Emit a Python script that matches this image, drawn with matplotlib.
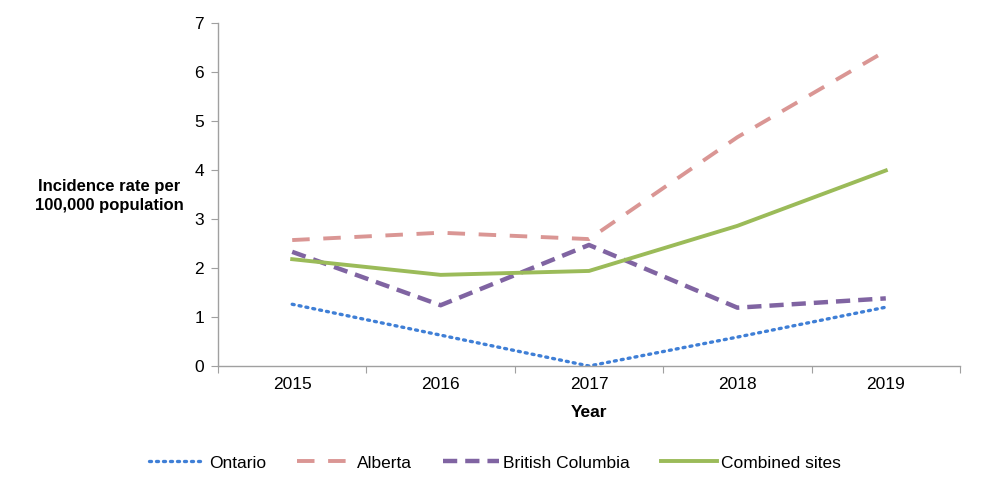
import matplotlib
matplotlib.use("Agg")
import matplotlib.pyplot as plt

plt.rcParams['font.family'] = ['Liberation Sans', 'DejaVu Sans']

years = ["2015", "2016", "2017", "2018", "2019"]
ontario = [1.26, 0.63, 0.0, 0.59, 1.20]
alberta = [2.57, 2.72, 2.59, 4.67, 6.43]
british_columbia = [2.33, 1.24, 2.47, 1.19, 1.38]
combined = [2.18, 1.86, 1.94, 2.86, 3.99]

fig = plt.figure(figsize=(9.82, 4.92), dpi=100)
ax = fig.add_axes([218/982, 1-366/492, (960-218)/982, (366-23)/492])

x = range(len(years))
ax.plot(x, ontario, color="#3F7FD6", lw=2.4, linestyle=(0, (0.6, 1.5)), dash_capstyle='round', label="Ontario")
ax.plot(x, alberta, color="#DA9694", lw=2.8, linestyle=(0, (4.5, 3.5)), label="Alberta")
ax.plot(x, british_columbia, color="#8064A2", lw=3.2, linestyle=(0, (3.2, 1.8)), label="British Columbia")
ax.plot(x, combined, color="#9BBB59", lw=2.8, linestyle="-", label="Combined sites")

ax.set_xlim(-0.5, len(years) - 0.5)
ax.set_ylim(0, 7)
ax.set_yticks(range(0, 8))
ax.set_xticks([i - 0.5 for i in range(len(years) + 1)], minor=False)
ax.set_xticklabels([])
ax.set_xticks(list(x), minor=True)
ax.set_xticklabels(years, minor=True)
ax.tick_params(axis='x', which='minor', length=0, pad=8, labelsize=12.5)
ax.tick_params(axis='x', which='major', length=5, color="#A0A0A0", direction='out')
ax.tick_params(axis='y', length=5, color="#A0A0A0", direction='out', labelsize=12.5, pad=5)

for s in ["top", "right"]:
    ax.spines[s].set_visible(False)
for s in ["left", "bottom"]:
    ax.spines[s].set_color("#A0A0A0")
    ax.spines[s].set_linewidth(1.0)

ax.set_xlabel("Year", fontsize=12.5, fontweight='bold', labelpad=9)
fig.text(109/982, 1-196/492, "Incidence rate per\n100,000 population", ha='center', va='center',
         fontsize=12, fontweight='bold', linespacing=1.3)

fig.legend(loc='center', bbox_to_anchor=(495/982, 1-463/492), ncol=4, frameon=False,
           fontsize=12.5, handlelength=3.2, columnspacing=1.8, handletextpad=0.25)

fig.savefig("out.png", dpi=100)
